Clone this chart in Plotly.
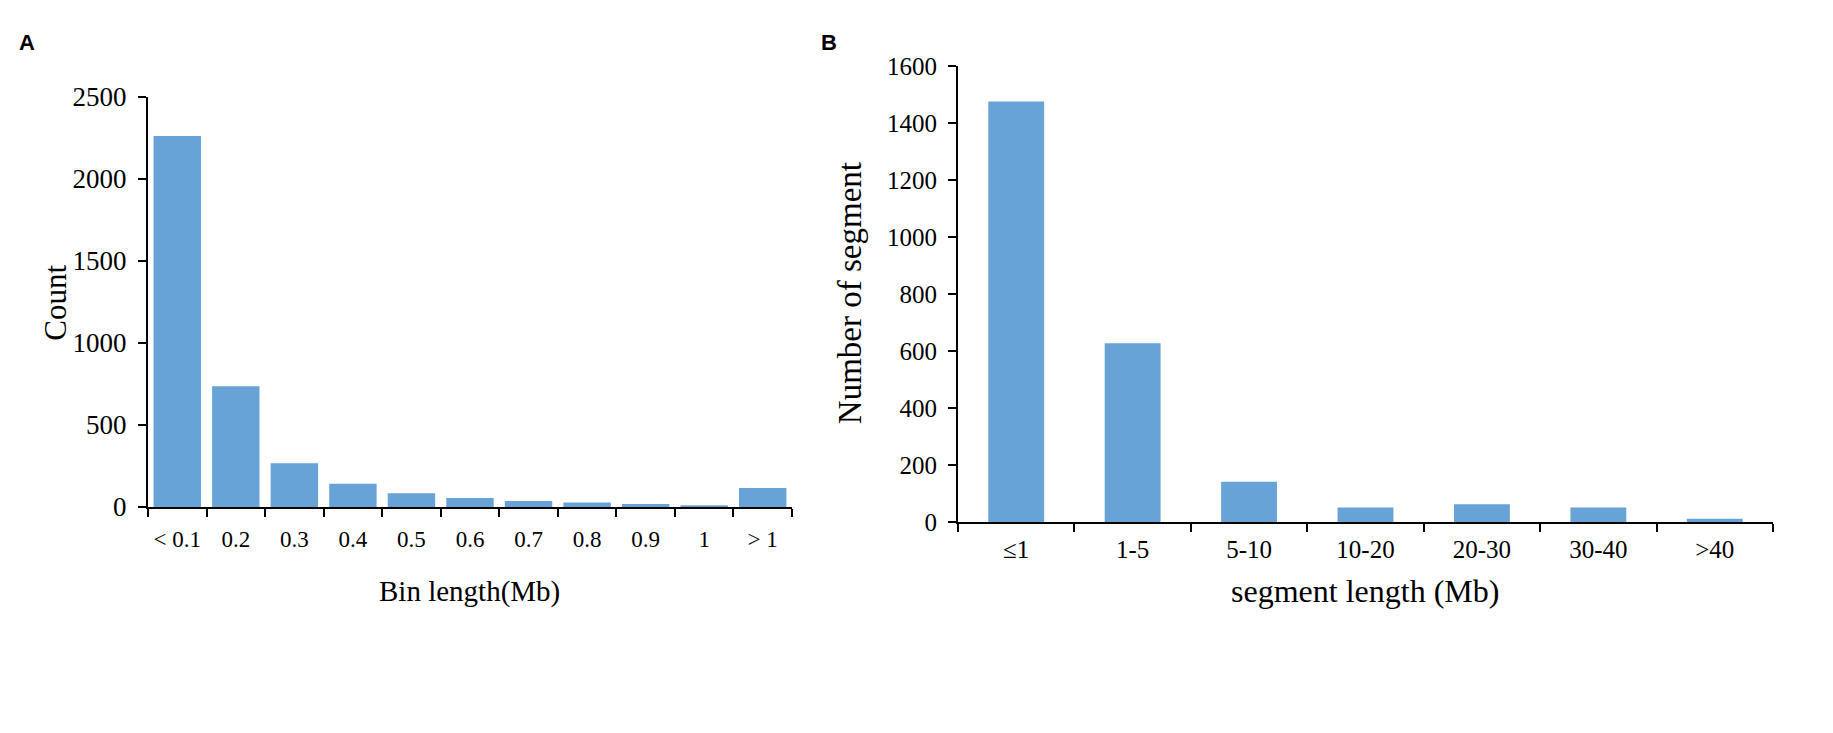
import plotly.graph_objects as go

W, H = 1833, 733

# ---- panel A data
bin_labels = ["< 0.1", "0.2", "0.3", "0.4", "0.5", "0.6", "0.7", "0.8", "0.9", "1", "> 1"]
bin_counts = [2260, 735, 266, 142, 84, 55, 36, 27, 18, 10, 116]
a_ticks = [0, 500, 1000, 1500, 2000, 2500]

# ---- panel B data
seg_labels = ["≤1", "1-5", "5-10", "10-20", "20-30", "30-40", ">40"]
seg_counts = [1475, 628, 142, 52, 63, 52, 13]
b_ticks = [0, 200, 400, 600, 800, 1000, 1200, 1400, 1600]

BAR = "#68a3d8"
SERIF = "Liberation Serif"

fig = go.Figure()

fig.add_trace(
    go.Bar(
        x=bin_labels,
        y=bin_counts,
        width=0.81,
        marker=dict(color=BAR, line=dict(width=0)),
        xaxis="x",
        yaxis="y",
        showlegend=False,
    )
)

fig.add_trace(
    go.Bar(
        x=seg_labels,
        y=seg_counts,
        width=0.48,
        marker=dict(color=BAR, line=dict(width=0)),
        xaxis="x2",
        yaxis="y2",
        showlegend=False,
    )
)


def px_x(v):
    return v / W


def px_y(v):
    return 1 - v / H


axis_common = dict(
    showgrid=False,
    zeroline=False,
    showline=True,
    linecolor="black",
    linewidth=2,
    tickcolor="black",
    tickwidth=2,
    ticklen=8,
    ticks="outside",
)

fig.update_layout(
    width=W,
    height=H,
    margin=dict(l=0, r=0, t=0, b=0),
    paper_bgcolor="white",
    plot_bgcolor="white",
    font=dict(family=SERIF, color="black"),
    xaxis=dict(
        domain=[px_x(148), px_x(792)],
        anchor="y",
        type="category",
        tickson="boundaries",
        ticklabelstandoff=10,
        tickfont=dict(family=SERIF, size=23),
        **axis_common,
    ),
    yaxis=dict(
        domain=[px_y(513), px_y(85)],
        anchor="x",
        range=[0, 2500],
        tickvals=a_ticks,
        ticklabelstandoff=6,
        tickfont=dict(family=SERIF, size=27),
        **axis_common,
    ),
    xaxis2=dict(
        domain=[px_x(958), px_x(1773)],
        anchor="y2",
        type="category",
        tickson="boundaries",
        ticklabelstandoff=4,
        tickfont=dict(family=SERIF, size=25),
        **axis_common,
    ),
    yaxis2=dict(
        domain=[px_y(529), px_y(53)],
        anchor="x2",
        range=[0, 1600],
        tickvals=b_ticks,
        ticklabelstandoff=6,
        tickfont=dict(family=SERIF, size=25),
        **axis_common,
    ),
)

# axis titles and panel letters
notes = [
    dict(text="Count", x=56, y=300, size=31, angle=-90, fam=SERIF),
    dict(text="Bin length(Mb)", x=470, y=601, size=29, angle=0, fam=SERIF),
    dict(text="Number of segment", x=850, y=290, size=33, angle=-90, fam=SERIF),
    dict(text="segment length (Mb)", x=1365, y=601, size=32, angle=0, fam=SERIF),
    dict(text="<b>A</b>", x=27, y=29, size=22, angle=0, fam="Liberation Sans"),
    dict(text="<b>B</b>", x=829, y=29, size=22, angle=0, fam="Liberation Sans"),
]
for n in notes:
    fig.add_annotation(
        text=n["text"],
        x=px_x(n["x"]),
        y=px_y(n["y"]),
        xref="paper",
        yref="paper",
        xanchor="center",
        yanchor="middle",
        textangle=n["angle"],
        showarrow=False,
        font=dict(family=n["fam"], size=n["size"], color="black"),
    )

fig.write_html(
    "out.html",
    config={"displayModeBar": False},
    post_script="document.body.style.margin='0';document.body.style.overflow='hidden';",
)
